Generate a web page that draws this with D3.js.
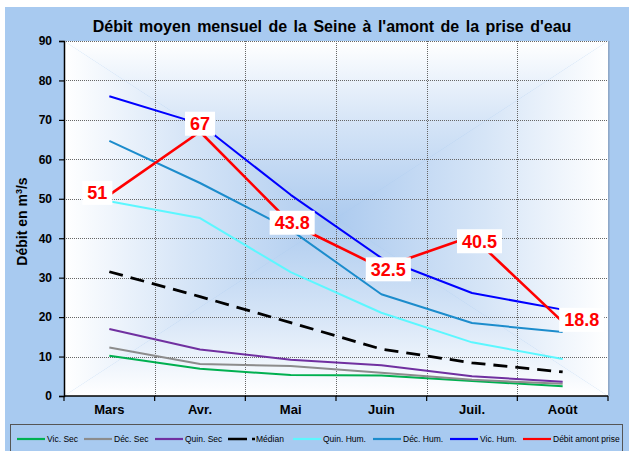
<!DOCTYPE html>
<html><head><meta charset="utf-8">
<script src="https://cdn.jsdelivr.net/npm/d3@7"></script>
<style>
html,body{margin:0;padding:0;background:#fff;}
svg{display:block;font-family:Arial,"Liberation Sans",sans-serif;}
</style></head>
<body><svg id="c" width="629" height="451"></svg>
<script>
const months = ["Mars","Avr.","Mai","Juin","Juil.","Août"];
const vicSec   = [10.2, 6.9, 5.3, 5.2, 3.8, 2.5];
const decSec   = [12.3, 8.1, 7.6, 5.9, 4.1, 3.1];
const quinSec  = [17.0, 11.8, 9.2, 7.8, 5.0, 3.6];
const median   = [31.5, 25.2, 18.6, 11.9, 8.4, 6.1];
const quinHum  = [49.4, 45.1, 31.4, 21.1, 13.6, 9.4];
const decHum   = [64.7, 54.0, 42.1, 25.8, 18.5, 16.2];
const vicHum   = [76.0, 69.0, 51.0, 35.0, 26.1, 21.9];
const debit    = [51, 67, 43.8, 32.5, 40.5, 18.8];
const yTicks   = [0,10,20,30,40,50,60,70,80,90];
const seriesNames = ["Vic. Sec","Déc. Sec","Quin. Sec","Médian","Quin. Hum.","Déc. Hum.","Vic. Hum.","Débit amont prise"];

const series = [
  {name:seriesNames[0], values:vicSec,  color:"#00b050", w:2},
  {name:seriesNames[1], values:decSec,  color:"#8c8c8c", w:2},
  {name:seriesNames[2], values:quinSec, color:"#7030a0", w:2},
  {name:seriesNames[3], values:median,  color:"#000000", w:2.8, dash:"14,8"},
  {name:seriesNames[4], values:quinHum, color:"#5cf7ff", w:2},
  {name:seriesNames[5], values:decHum,  color:"#1c8ccc", w:2},
  {name:seriesNames[6], values:vicHum,  color:"#0000ff", w:2},
  {name:seriesNames[7], values:debit,   color:"#ff0000", w:2.6}
];

const svg = d3.select("#c");
const X0=64, X1=608, Y0=41, Y1=396;

svg.append("rect").attr("x",5).attr("y",7).attr("width",624).attr("height",444).attr("fill","#a8caf0");

const x = d3.scaleBand().domain(months).range([X0,X1]);
const y = d3.scaleLinear().domain([0,90]).range([Y1,Y0]);
const cx = d => x(d)+x.bandwidth()/2;

const defs = svg.append("defs");
const mx=(X0+X1)/2, my=(Y0+Y1)/2;
function grad(id,x1,y1,x2,y2){
  const g=defs.append("linearGradient").attr("id",id).attr("gradientUnits","userSpaceOnUse")
   .attr("x1",x1).attr("y1",y1).attr("x2",x2).attr("y2",y2);
  g.append("stop").attr("offset",0).attr("stop-color","#ffffff");
  g.append("stop").attr("offset",0.45).attr("stop-color","#d6e5f7");
  g.append("stop").attr("offset",1).attr("stop-color","#adcbef");
}
grad("gT",mx,Y0,mx,my); grad("gB",mx,Y1,mx,my); grad("gL",X0,my,mx,my); grad("gR",X1,my,mx,my);
const bg=svg.append("g");
bg.append("path").attr("d",`M${X0},${Y0}L${X1},${Y0}L${mx},${my}Z`).attr("fill","url(#gT)");
bg.append("path").attr("d",`M${X0},${Y1}L${X1},${Y1}L${mx},${my}Z`).attr("fill","url(#gB)");
bg.append("path").attr("d",`M${X0},${Y0}L${X0},${Y1}L${mx},${my}Z`).attr("fill","url(#gL)");
bg.append("path").attr("d",`M${X1},${Y0}L${X1},${Y1}L${mx},${my}Z`).attr("fill","url(#gR)");
bg.selectAll("path").attr("stroke","none");
svg.append("line").attr("x1",X1+0.8).attr("x2",X1+0.8).attr("y1",Y0).attr("y2",Y1).attr("stroke","#8ea6c6").attr("stroke-width",1.5);

const grid=svg.append("g").attr("stroke","#666").attr("stroke-width",1).attr("stroke-dasharray","1,1");
grid.selectAll(".h").data(yTicks.filter(v=>v>0)).join("line")
  .attr("x1",X0).attr("x2",X1).attr("y1",d=>Math.round(y(d))+0.5).attr("y2",d=>Math.round(y(d))+0.5);
const bounds = months.slice(1).map(m=>x(m));
grid.selectAll(".v").data(bounds).join("line")
  .attr("x1",d=>Math.round(d)+0.5).attr("x2",d=>Math.round(d)+0.5).attr("y1",Y0).attr("y2",Y1);

const ya = svg.append("g").attr("transform",`translate(${X0},0)`)
  .call(d3.axisLeft(y).tickValues(yTicks).tickSize(5).tickPadding(7).tickFormat(d3.format("d")));
ya.select(".domain").attr("stroke","#000").attr("stroke-width",1.5);
ya.selectAll(".tick line").attr("stroke","#000").attr("stroke-width",1.2);
ya.selectAll("text").attr("font-size",12).attr("font-weight","bold").attr("fill","#000").attr("font-family","Arial,'Liberation Sans',sans-serif");

const xa = svg.append("g").attr("transform",`translate(0,${Y1})`)
  .call(d3.axisBottom(x).tickSize(0).tickPadding(9));
xa.select(".domain").remove();
xa.selectAll("text").attr("font-size",13).attr("font-weight","bold").attr("fill","#000").attr("font-family","Arial,'Liberation Sans',sans-serif");
svg.append("line").attr("x1",X0).attr("x2",X1).attr("y1",Y1).attr("y2",Y1).attr("stroke","#000").attr("stroke-width",1.5);
svg.selectAll(".xt").data(months.map(m=>x(m)).concat([X1])).join("line")
  .attr("x1",d=>d).attr("x2",d=>d).attr("y1",Y1).attr("y2",Y1+5).attr("stroke","#000").attr("stroke-width",1.2);

svg.append("text").attr("transform",`translate(27,${my+3}) rotate(-90)`).attr("text-anchor","middle")
  .attr("font-size",14).attr("font-weight","bold")
  .call(t=>{t.append("tspan").text("Débit en m");
            t.append("tspan").attr("font-size",9).attr("dy",-5).text("3");
            t.append("tspan").attr("dy",5).text("/s");});

svg.append("text").attr("x",332).attr("y",32).attr("text-anchor","middle")
  .attr("font-size",16).attr("font-weight","bold").attr("word-spacing",2)
  .text("Débit moyen mensuel de la Seine à l'amont de la prise d'eau");

const line = d3.line().x((d,i)=>cx(months[i])).y(d=>y(d));
svg.append("g").selectAll("path").data(series).join("path")
  .attr("d",s=>line(s.values)).attr("fill","none")
  .attr("stroke",s=>s.color).attr("stroke-width",s=>s.w)
  .attr("stroke-dasharray",s=>s.dash||null).attr("stroke-linejoin","round");

const labOff=[[-12,-2],[0,-8],[1.5,-0.5],[7,1.5],[7.5,5],[19,-2]];
const lab=svg.append("g");
debit.forEach((v,i)=>{
  const px=cx(months[i])+labOff[i][0], py=y(v)+labOff[i][1];
  const g=lab.append("g");
  const t=g.append("text").attr("x",px).attr("y",py+6.5).attr("text-anchor","middle")
    .attr("font-size",18).attr("font-weight","bold").attr("fill","#ff0000").text(String(v));
  const w=t.node().getComputedTextLength();
  g.insert("rect","text").attr("x",px-w/2-5).attr("y",py-12).attr("width",w+10).attr("height",24).attr("fill","#fff");
});

svg.append("rect").attr("x",10.5).attr("y",424.5).attr("width",612).attr("height",40)
  .attr("fill","none").attr("stroke","#555").attr("stroke-width",1);
const legX=[17,84,155,228,293,373,450,523];
const lg=svg.append("g");
series.forEach((s,i)=>{
  const lx=legX[i];
  if(s.dash){
    lg.append("line").attr("x1",lx).attr("x2",lx+19).attr("y1",439).attr("y2",439).attr("stroke","#000").attr("stroke-width",2.5);
    lg.append("line").attr("x1",lx+24).attr("x2",lx+27).attr("y1",439).attr("y2",439).attr("stroke","#000").attr("stroke-width",2.5);
    lg.append("text").attr("x",lx+28).attr("y",442).attr("font-size",8.5).text(s.name);
  } else {
    lg.append("line").attr("x1",lx).attr("x2",lx+28).attr("y1",439).attr("y2",439).attr("stroke",s.color).attr("stroke-width",2.2);
    lg.append("text").attr("x",lx+30).attr("y",442).attr("font-size",8.5).text(s.name);
  }
});
</script></body></html>
